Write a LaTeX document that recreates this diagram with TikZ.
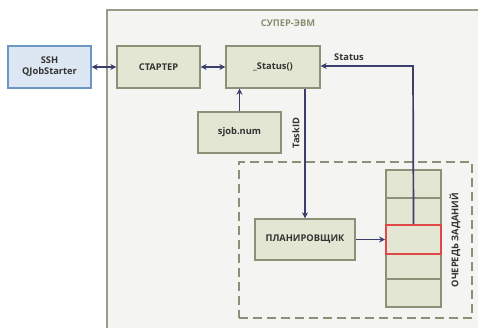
\documentclass[tikz,border=0pt]{standalone}
\usepackage{fontspec}
\setmainfont{Open Sans}
\usetikzlibrary{arrows.meta}
\definecolor{boxfill}{HTML}{E3E6D2}
\definecolor{boxdraw}{HTML}{8C9077}
\definecolor{sshfill}{HTML}{DCE7F3}
\definecolor{sshdraw}{HTML}{6E96C2}
\definecolor{arr}{HTML}{3C3F6E}
\definecolor{outerfill}{HTML}{F4F4F3}
\definecolor{outerdraw}{HTML}{9A9B84}
\definecolor{txt}{HTML}{333333}
\definecolor{lbl}{HTML}{8A8E70}
\definecolor{redc}{HTML}{E04848}
\tikzset{
  pbox/.style={draw=boxdraw, fill=boxfill, line width=1.4pt, text=txt,
    font=\bfseries\fontsize{9.3}{11}\selectfont, align=center, inner sep=0pt},
  conn/.style={draw=arr, line width=1.7pt, -{Stealth[length=6pt,width=6pt]}},
  bconn/.style={draw=arr, line width=1.7pt, {Stealth[length=6pt,width=6pt]}-{Stealth[length=6pt,width=6pt]}},
  lab/.style={text=txt, font=\bfseries\fontsize{9.3}{11}\selectfont, inner sep=0pt},
}
\begin{document}
\begin{tikzpicture}[x=1pt,y=-1pt]
\useasboundingbox (0,0) rectangle (478,328);
\fill[white] (0,0) rectangle (478,328);
% outer box
\node[draw=outerdraw, fill=outerfill, line width=2pt, minimum width=390pt, minimum height=340pt, anchor=north west, inner sep=0pt] (outer) at (106,9) {};
\node[text=lbl, font=\bfseries\fontsize{9.3}{11}\selectfont, inner sep=0pt] (outerlbl) at (288,23) {СУПЕР-ЭВМ};
% dashed box
\node[draw=boxdraw, line width=1.7pt, dash pattern=on 9pt off 5pt, minimum width=233pt, minimum height=156pt, anchor=north west, inner sep=0pt] (dash) at (238,161) {};
% nodes
\node[pbox, draw=sshdraw, fill=sshfill, minimum width=83pt, minimum height=42pt] (ssh) at (49.5,67) {SSH\\QJobStarter};
\node[pbox, minimum width=83pt, minimum height=42pt] (start) at (158.5,67) {СТАРТЕР};
\node[pbox, minimum width=94pt, minimum height=42pt] (status) at (273,67) {\_Status()};
\node[pbox, minimum width=83pt, minimum height=41pt] (sjob) at (239.5,132.5) {sjob.num};
\node[pbox, minimum width=100pt, minimum height=41pt] (plan) at (305,239.5) {ПЛАНИРОВЩИК};
% queue cells
\node[pbox, minimum width=55pt, minimum height=28pt] (q1) at (413.5,184) {};
\node[pbox, minimum width=55pt, minimum height=27pt] (q2) at (413.5,211.5) {};
\node[pbox, minimum width=55pt, minimum height=26pt] (q4) at (413.5,266.5) {};
\node[pbox, minimum width=55pt, minimum height=28pt] (q5) at (413.5,293) {};
\node[pbox, draw=redc, line width=1.8pt, minimum width=55pt, minimum height=29pt] (q3) at (413.5,239.5) {};
\node[lab, rotate=90] (qlbl) at (455,240) {ОЧЕРЕДЬ ЗАДАНИЙ};
% connectors
\draw[bconn] (ssh.east) -- (start.west);
\draw[bconn] (start.east) -- (status.west);
\draw[conn] (sjob.north) -- (sjob.north |- status.south);
\draw[conn] (status.south -| 305,0) -- (plan.north -| 305,0);
\node[lab, rotate=90] (tlbl) at (296,133) {TaskID};
\coordinate (sturn) at (413,66);
\draw[conn] (q3.north) -- (sturn) -- (status.east |- sturn);
\node[lab] (slbl) at (349,57) {Status};
\draw[conn] (plan.east) -- (q3.west);
\end{tikzpicture}
\end{document}
